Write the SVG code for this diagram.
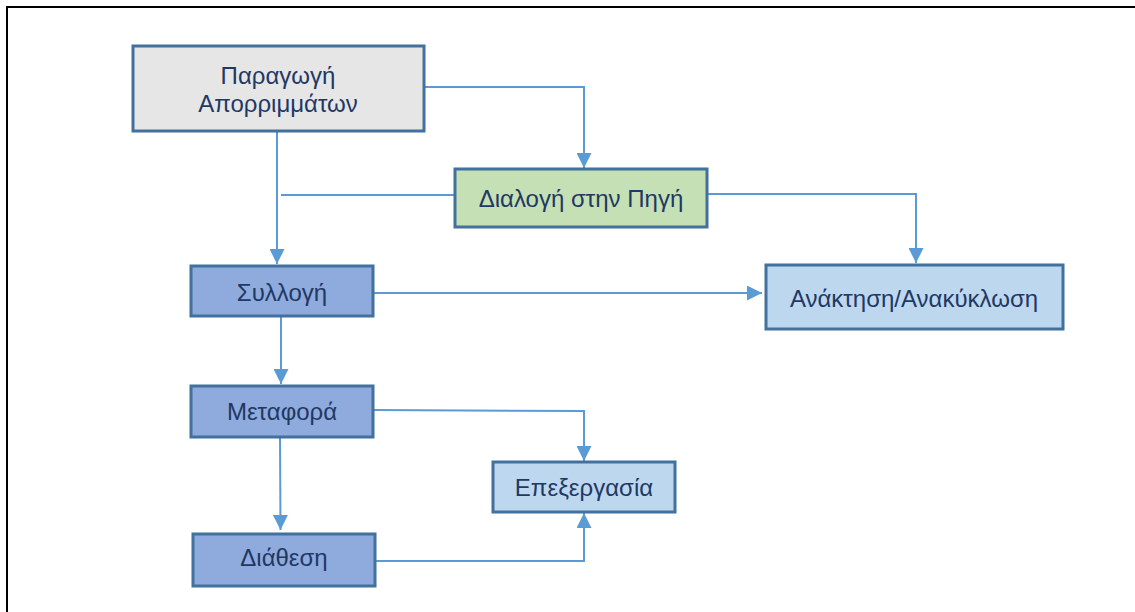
<svg xmlns="http://www.w3.org/2000/svg" width="1135" height="612" viewBox="0 0 1135 612">
<style>
.box{stroke:#41719c;stroke-width:3}
.t{font-family:"Liberation Sans",Arial,sans-serif;font-size:24px;fill:#1f3864;text-anchor:middle;dominant-baseline:central}
.c{fill:none;stroke:#5b9bd5;stroke-width:2}
</style>
<defs>
<marker id="ah" viewBox="0 0 15 15" refX="15" refY="7.5" markerWidth="15" markerHeight="15" markerUnits="userSpaceOnUse" orient="auto">
<path d="M0,0 L15,7.5 L0,15 Z" fill="#5b9bd5"/>
</marker>
</defs>
<rect width="1135" height="612" fill="#fff"/>
<path d="M7,612 V7 H1135" fill="none" stroke="#000" stroke-width="2"/>
<g id="connectors">
<path class="c" d="M424,87 H584 V168" marker-end="url(#ah)"/>
<path class="c" d="M277,131 V264" marker-end="url(#ah)"/>
<path class="c" d="M281,195 H455"/>
<path class="c" d="M707,194 H916 V263" marker-end="url(#ah)"/>
<path class="c" d="M373,293 H762" marker-end="url(#ah)"/>
<path class="c" d="M281,316 V384" marker-end="url(#ah)"/>
<path class="c" d="M373,410 L584,411 V461" marker-end="url(#ah)"/>
<path class="c" d="M280,437 L280.5,530" marker-end="url(#ah)"/>
<path class="c" d="M375,561 H584 V513" marker-end="url(#ah)"/>
</g>
<g id="n1">
<rect class="box" x="133" y="46" width="291" height="85" fill="#e7e6e6"/>
<text class="t" x="278" y="75">Παραγωγή</text>
<text class="t" x="278" y="103">Απορριμμάτων</text>
</g>
<g id="n2">
<rect class="box" x="455" y="169" width="252" height="58" fill="#c5e0b4"/>
<text class="t" x="581" y="198">Διαλογή στην Πηγή</text>
</g>
<g id="n3">
<rect class="box" x="191" y="266" width="182" height="50" fill="#8faadc"/>
<text class="t" x="282" y="292">Συλλογή</text>
</g>
<g id="n4">
<rect class="box" x="766" y="265" width="297" height="64" fill="#bdd7ee"/>
<text class="t" x="914" y="298">Ανάκτηση/Ανακύκλωση</text>
</g>
<g id="n5">
<rect class="box" x="191" y="386" width="182" height="51" fill="#8faadc"/>
<text class="t" x="282" y="411">Μεταφορά</text>
</g>
<g id="n6">
<rect class="box" x="493" y="462" width="182" height="50" fill="#bdd7ee"/>
<text class="t" x="584" y="487">Επεξεργασία</text>
</g>
<g id="n7">
<rect class="box" x="193" y="534" width="182" height="52" fill="#8faadc"/>
<text class="t" x="284" y="557">Διάθεση</text>
</g>
</svg>
